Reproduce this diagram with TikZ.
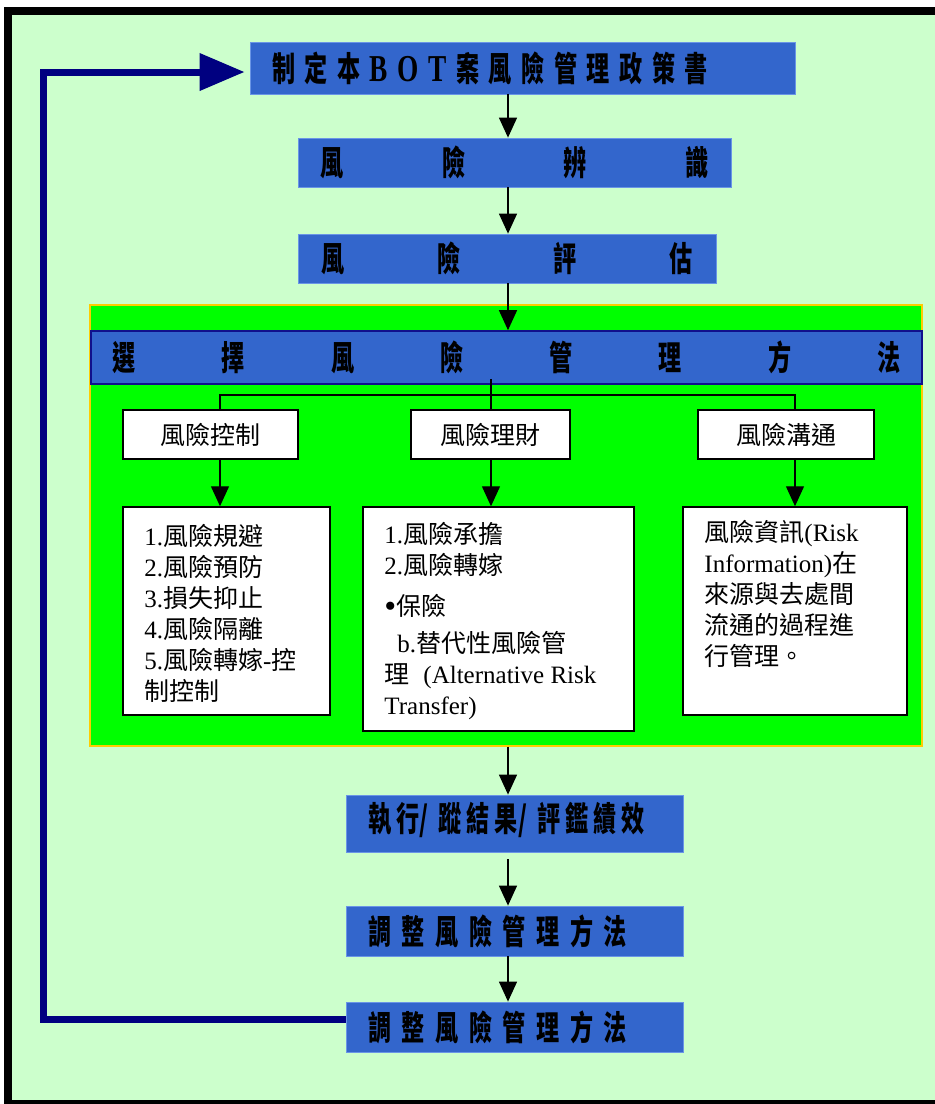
\documentclass[tikz,border=0pt]{standalone}
\usepackage{fontspec}
\setmainfont{Noto Sans CJK TC}
\newfontfamily\lat{Liberation Serif}
\newfontfamily\hb[FakeStretch=0.68]{Noto Sans CJK TC}
\newfontfamily\hbl[FakeStretch=0.72]{Liberation Serif}
\usetikzlibrary{arrows.meta}
\definecolor{bgc}{HTML}{CCFFCC}
\definecolor{boxblue}{HTML}{3366CC}
\definecolor{boxedge}{HTML}{6A95E6}
\definecolor{brightgreen}{HTML}{00FF00}
\definecolor{goldedge}{HTML}{FFCC00}
\definecolor{navyline}{HTML}{000080}
\definecolor{bandedge}{HTML}{10108C}
\newcommand{\btl}[1]{{\hbl\fontsize{38}{38}\selectfont #1}}
\tikzset{
  bluebox/.style={fill=boxblue, draw=boxedge, line width=0.8pt, inner sep=0pt,
    font=\hb\bfseries\fontsize{34}{34}\selectfont, text=black},
  whitebox/.style={fill=white, draw=black, line width=1.5pt, inner sep=0pt,
    font=\fontsize{25}{31}\selectfont},
  wtext/.style={inner sep=0pt, align=left, anchor=north west, font=\fontsize{25}{31}\selectfont},
  arr/.style={draw=black, line width=1.3pt, -{Triangle[length=20pt,width=18pt]}},
  conn/.style={draw=black, line width=1.3pt},
  fb/.style={draw=navyline, line width=7pt, -{Triangle[length=45pt,width=36pt]}}
}
\begin{document}
\begin{tikzpicture}[x=1pt,y=-1pt]
\useasboundingbox (0,0) rectangle (935,1104);
\clip (0,0) rectangle (935,1104);
\fill[white] (0,0) rectangle (935,1104);
\fill[bgc] (12,15) rectangle (940,1100);
\draw[black, line width=8pt] (8,11) rectangle (950,1104);

% coordinates for connector columns
\coordinate (ax) at (508,0);
\coordinate (bx) at (491,395);
\coordinate (lx) at (220,0);
\coordinate (rx) at (795,0);
\coordinate (fbc) at (43,72);

% green panel
\node[fill=brightgreen, draw=goldedge, line width=1.2pt, minimum width=832pt, minimum height=441pt, inner sep=0pt] (grn) at (506,525.5) {};

% blue boxes
\node[bluebox, minimum width=545pt, minimum height=52pt] (top) at (522.5,68)
  {\makebox[545pt][l]{\hspace{22pt}\makebox[436pt][s]{制\hfill 定\hfill 本\hfill\btl{B}\hfill\btl{O}\hfill\btl{T}\hfill 案\hfill 風\hfill 險\hfill 管\hfill 理\hfill 政\hfill 策\hfill 書}}};
\node[bluebox, minimum width=433pt, minimum height=49pt] (b2) at (514.5,162.5)
  {\makebox[388pt][s]{風\hfill 險\hfill 辨\hfill 識}};
\node[bluebox, minimum width=418pt, minimum height=49pt] (b3) at (507,258.5)
  {\makebox[371pt][s]{風\hfill 險\hfill 評\hfill 估}};
\node[bluebox, draw=bandedge, line width=1.6pt, minimum width=831pt, minimum height=53pt] (band) at (506.5,357.5)
  {\makebox[788pt][s]{選\hfill 擇\hfill 風\hfill 險\hfill 管\hfill 理\hfill 方\hfill 法}};

% small white boxes
\node[whitebox, minimum width=175pt, minimum height=49pt] (s1) at (210.5,434.5) {風險控制};
\node[whitebox, minimum width=159pt, minimum height=49pt] (s2) at (490.5,434.5) {風險理財};
\node[whitebox, minimum width=176pt, minimum height=49pt] (s3) at (786,434.5) {風險溝通};

% large white boxes
\node[whitebox, minimum width=207pt, minimum height=208pt] (L1) at (226.5,611) {};
\node[whitebox, minimum width=271pt, minimum height=224pt] (L2) at (498.5,619) {};
\node[whitebox, minimum width=224pt, minimum height=208pt] (L3) at (795,611) {};

\node[wtext] (L1t) at ([xshift=22pt,yshift=-18pt]L1.north west)
  {{\lat 1.}風險規避\\{\lat 2.}風險預防\\{\lat 3.}損失抑止\\{\lat 4.}風險隔離\\{\lat 5.}風險轉嫁{\lat -}控\\制控制};
\node[wtext] (L2t) at ([xshift=22pt,yshift=-16pt]L2.north west)
  {{\lat 1.}風險承擔\\{\lat 2.}風險轉嫁\\[10pt]{\lat\fontsize{34}{31}\selectfont\raisebox{-2pt}{\textbullet}}保險\\[6pt]\hspace{13pt}{\lat b.}替代性風險管\\理\hspace{14pt}{\lat (Alternative Risk}\\{\lat Transfer)}};
\node[wtext] (L3t) at ([xshift=22pt,yshift=-14pt]L3.north west)
  {風險資訊{\lat (Risk}\\{\lat Information)}在\\來源與去處間\\流通的過程進\\行管理。};

% lower blue boxes
\node[bluebox, minimum width=337pt, minimum height=57pt, text depth=14pt] (e1) at (514.5,823.5)
  {\makebox[337pt][l]{\hspace{22pt}\makebox[277pt][s]{執\hfill 行/\hfill\hfill 蹤\hfill 結\hfill 果/\hfill\hfill 評\hfill 鑑\hfill 績\hfill 效}}};
\node[bluebox, minimum width=337pt, minimum height=50pt] (e2) at (514.5,931)
  {\makebox[337pt][l]{\hspace{22pt}\makebox[259pt][s]{調\hfill 整\hfill 風\hfill 險\hfill 管\hfill 理\hfill 方\hfill 法}}};
\node[bluebox, minimum width=337pt, minimum height=50pt] (e3) at (514.5,1027)
  {\makebox[337pt][l]{\hspace{22pt}\makebox[259pt][s]{調\hfill 整\hfill 風\hfill 險\hfill 管\hfill 理\hfill 方\hfill 法}}};

% main arrows
\draw[arr] (top.south -| ax) -- (b2.north -| ax);
\draw[arr] (b2.south -| ax) -- (b3.north -| ax);
\draw[arr] (b3.south -| ax) -- (band.north -| ax);
\draw[arr] (grn.south -| ax) -- (e1.north -| ax);
\draw[arr, shorten <=7pt] (e1.south -| ax) -- (e2.north -| ax);
\draw[arr] (e2.south -| ax) -- (e3.north -| ax);

% branch connector
\draw[conn] ([yshift=6pt]band.south -| bx) -- (bx) -- (s2.north -| bx);
\draw[conn] (s1.north -| lx) -- (lx |- bx) -- (rx |- bx) -- (s3.north -| rx);
\draw[arr] (s1.south -| lx) -- (L1.north -| lx);
\draw[arr] (s2.south -| bx) -- (L2.north -| bx);
\draw[arr] (s3.south -| rx) -- (L3.north -| rx);

% feedback loop
\draw[fb, shorten >=5pt] ([yshift=8pt]e3.west) -| (fbc) -- ([yshift=-4pt]top.west);
\end{tikzpicture}
\end{document}
